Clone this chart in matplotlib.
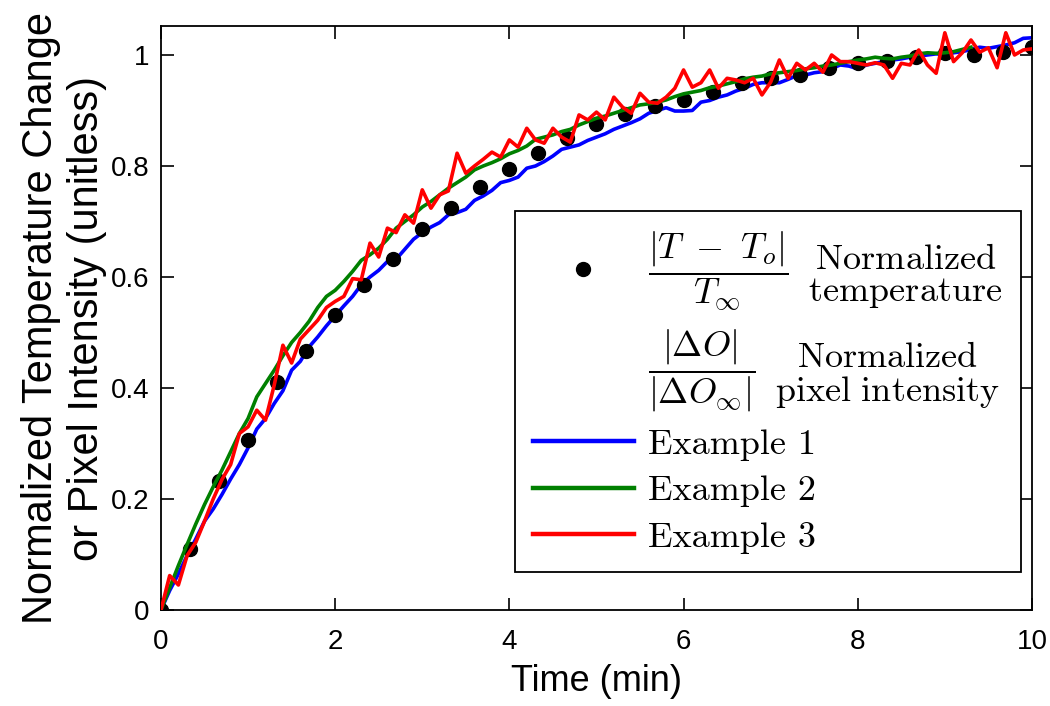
import numpy as np
import matplotlib
matplotlib.use("Agg")
import matplotlib.pyplot as plt
from matplotlib.lines import Line2D

plt.rcParams['font.family'] = ['Liberation Sans', 'DejaVu Sans']
plt.rcParams['mathtext.fontset'] = 'cm'

#------------------ data

# measured temperature, every 20 s
t_temp = np.arange(31) / 3.0
temp = [0.000, 0.110, 0.233, 0.306, 0.410, 0.467, 0.532, 0.586, 0.633, 0.686,
        0.725, 0.762, 0.794, 0.824, 0.851, 0.875, 0.893, 0.908, 0.919, 0.933,
        0.949, 0.958, 0.964, 0.976, 0.985, 0.990, 0.996, 1.003, 1.000, 1.005,
        1.014]

# pixel intensity, every 0.1 min
t_pix = np.round(np.arange(101) * 0.1, 1)

ex1 = [0.000, 0.035, 0.065, 0.098, 0.128, 0.160, 0.182, 0.208, 0.236, 0.262,
       0.292, 0.326, 0.345, 0.372, 0.395, 0.432, 0.448, 0.474, 0.492, 0.512,
       0.530, 0.548, 0.565, 0.586, 0.600, 0.612, 0.628, 0.632, 0.650, 0.668,
       0.680, 0.690, 0.698, 0.712, 0.716, 0.722, 0.738, 0.746, 0.756, 0.770,
       0.774, 0.780, 0.796, 0.800, 0.808, 0.818, 0.830, 0.834, 0.838, 0.846,
       0.852, 0.858, 0.866, 0.872, 0.878, 0.885, 0.895, 0.900, 0.905, 0.899,
       0.899, 0.900, 0.915, 0.918, 0.924, 0.928, 0.935, 0.940, 0.947, 0.950,
       0.950, 0.950, 0.956, 0.963, 0.964, 0.968, 0.970, 0.976, 0.982, 0.980,
       0.975, 0.982, 0.985, 0.988, 0.991, 0.993, 0.996, 0.998, 1.000, 1.002,
       1.001, 1.004, 1.006, 1.010, 1.014, 1.012, 1.015, 1.018, 1.022, 1.030,
       1.031]

# example 2 stops at 9.3 min
ex2 = [0.000, 0.040, 0.080, 0.118, 0.155, 0.190, 0.222, 0.252, 0.285, 0.318,
       0.345, 0.384, 0.408, 0.432, 0.458, 0.482, 0.500, 0.520, 0.545, 0.565,
       0.576, 0.592, 0.610, 0.630, 0.640, 0.652, 0.668, 0.688, 0.700, 0.712,
       0.726, 0.736, 0.748, 0.760, 0.770, 0.780, 0.793, 0.800, 0.806, 0.813,
       0.822, 0.828, 0.836, 0.848, 0.852, 0.856, 0.862, 0.866, 0.874, 0.880,
       0.886, 0.890, 0.895, 0.900, 0.905, 0.910, 0.912, 0.915, 0.919, 0.925,
       0.930, 0.933, 0.936, 0.941, 0.944, 0.948, 0.952, 0.957, 0.960, 0.962,
       0.966, 0.968, 0.970, 0.972, 0.975, 0.977, 0.980, 0.982, 0.985, 0.988,
       0.991, 0.993, 0.996, 0.994, 0.993, 0.996, 0.998, 1.002, 1.004, 1.003,
       1.004, 1.006, 1.010, 1.014]

ex3 = [0.000, 0.062, 0.045, 0.098, 0.122, 0.160, 0.200, 0.235, 0.262, 0.318,
       0.330, 0.360, 0.342, 0.405, 0.477, 0.445, 0.488, 0.505, 0.522, 0.545,
       0.556, 0.565, 0.597, 0.595, 0.661, 0.636, 0.688, 0.680, 0.712, 0.697,
       0.757, 0.724, 0.748, 0.755, 0.823, 0.787, 0.800, 0.812, 0.825, 0.816,
       0.847, 0.834, 0.868, 0.847, 0.841, 0.868, 0.852, 0.843, 0.892, 0.883,
       0.897, 0.883, 0.924, 0.906, 0.895, 0.931, 0.915, 0.913, 0.924, 0.940,
       0.973, 0.942, 0.950, 0.973, 0.940, 0.958, 0.955, 0.950, 0.958, 0.928,
       0.951, 0.991, 0.958, 0.985, 0.973, 0.985, 0.969, 1.000, 0.988, 0.988,
       0.985, 0.982, 0.986, 0.982, 0.958, 0.985, 0.982, 1.009, 0.982, 0.967,
       1.040, 0.988, 1.004, 1.027, 1.005, 1.013, 0.977, 1.040, 1.000, 1.009,
       1.011]

xticks = [0, 2, 4, 6, 8, 10]
yticks = [0, 0.2, 0.4, 0.6, 0.8, 1]
ytick_labels = ['0', '0.2', '0.4', '0.6', '0.8', '1']

#------------------ plot

fig = plt.figure(figsize=(10.5, 7.06), dpi=100)
ax = fig.add_axes([0.1533, 0.136, 0.8295, 0.827])

ax.plot(t_pix, ex1, color='#0000ff', lw=2.6, label='Example 1', zorder=2)
dots, = ax.plot(t_temp, temp, 'o', color='k', ms=10, zorder=3)
ax.plot(t_pix[:len(ex2)], ex2, color='#008000', lw=2.6, label='Example 2', zorder=4)
ax.plot(t_pix, ex3, color='#ff0000', lw=2.6, label='Example 3', zorder=5)

ax.set_xlim(0, 10)
ax.set_ylim(0, 1.052)
ax.set_xticks(xticks)
ax.set_yticks(yticks)
ax.set_yticklabels(ytick_labels)
ax.tick_params(direction='in', length=9, width=1.2, top=True, right=True,
               labelsize=20, pad=8)
ax.tick_params(axis='x', pad=14)
for s in ax.spines.values():
    s.set_linewidth(1.3)

ax.set_xlabel('Time (min)', fontsize=26, labelpad=6)
ax.set_ylabel('Normalized Temperature Change\nor Pixel Intensity (unitless)',
              fontsize=30, labelpad=3, linespacing=1.2)

# legend
lab_temp = (r'$\dfrac{|T\ -\ T_o|}{T_\infty}\;\;'
            r'\genfrac{}{}{0}{0}{\mathrm{Normalized}}{\mathrm{temperature}}$')
lab_pix = (r'$\dfrac{|\Delta O|}{|\Delta O_\infty|}\;\;'
           r'\genfrac{}{}{0}{0}{\mathrm{Normalized}}{\mathrm{pixel\ intensity}}$')
h_none = Line2D([], [], linestyle='none')
lines = ax.get_lines()
handles = [Line2D([], [], ls='none', marker='o', color='k', ms=10), h_none,
           lines[0], lines[2], lines[3]]
labels = [lab_temp, lab_pix, 'Example 1', 'Example 2', 'Example 3']
leg = ax.legend(handles, labels, loc='lower right', bbox_to_anchor=(0.987, 0.065),
                borderaxespad=0, prop={'family': 'cmr10', 'size': 26},
                handlelength=2.8, handletextpad=0.4, labelspacing=0.4,
                borderpad=0.5, fancybox=False, framealpha=1, edgecolor='k')
leg.get_frame().set_linewidth(1.3)
for l in leg.get_lines():
    l.set_linewidth(3.2)

fig.savefig('out.png', dpi=100)
